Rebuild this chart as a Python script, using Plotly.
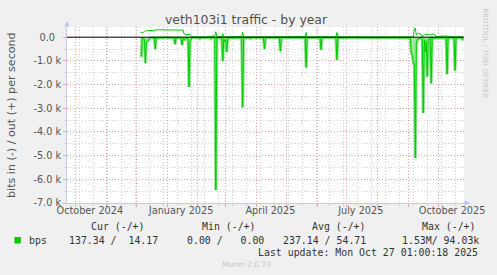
import plotly.graph_objects as go

# ---------------- data ----------------
in_dates = [
    "2024-12-05", "2024-12-06", "2024-12-07", "2024-12-08", "2024-12-09", "2024-12-10",
    "2024-12-11", "2024-12-12", "2024-12-13", "2024-12-14", "2024-12-15", "2024-12-16",
    "2024-12-19", "2024-12-20", "2024-12-21", "2024-12-28", "2025-01-05", "2025-01-08",
    "2025-01-09", "2025-01-10", "2025-01-15", "2025-01-16", "2025-01-17", "2025-01-19",
    "2025-01-20", "2025-01-22", "2025-01-23", "2025-01-24", "2025-01-25", "2025-01-26",
    "2025-02-02", "2025-02-03", "2025-02-04", "2025-02-13", "2025-02-14", "2025-02-15",
    "2025-02-18", "2025-02-19", "2025-02-20", "2025-02-21", "2025-02-25", "2025-02-26",
    "2025-02-27", "2025-02-28", "2025-03-01", "2025-03-02", "2025-03-03", "2025-03-08",
    "2025-03-12", "2025-03-17", "2025-03-18", "2025-03-19", "2025-03-25", "2025-03-26",
    "2025-03-27", "2025-04-08", "2025-04-09", "2025-04-10", "2025-04-24", "2025-04-25",
    "2025-04-26", "2025-05-20", "2025-05-21", "2025-05-22", "2025-06-04", "2025-06-05",
    "2025-06-06", "2025-06-20", "2025-06-21", "2025-06-22", "2025-07-01", "2025-07-15",
    "2025-08-01", "2025-08-20", "2025-09-02", "2025-09-03", "2025-09-04", "2025-09-05",
    "2025-09-06", "2025-09-07", "2025-09-08", "2025-09-09", "2025-09-10", "2025-09-14",
    "2025-09-15", "2025-09-16", "2025-09-17", "2025-09-18", "2025-09-19", "2025-09-20",
    "2025-09-21", "2025-09-23", "2025-09-24", "2025-09-25", "2025-10-01", "2025-10-09",
    "2025-10-10", "2025-10-11", "2025-10-17", "2025-10-18", "2025-10-19", "2025-10-25",
    "2025-10-26",
]
in_bps = [
    790, 790, 30, 50, 90, 1100,
    200, 180, 120, 50, 30, 20,
    30, 500, 30, 20, 25, 25,
    300, 25, 30, 330, 50, 100,
    30, 40, 2100, 180, 80, 20,
    20, 60, 20, 20, 70, 20,
    20, 6450, 30, 25, 20, 1000,
    60, 200, 100, 630, 30, 30,
    20, 20, 2960, 30, 20, 60,
    20, 20, 500, 20, 20, 600,
    20, 20, 1280, 20, 20, 530,
    20, 20, 960, 30, 25, 20,
    25, 20, 30, 60, 680, 750,
    1100, 1100, 5100, 300, 100, 20,
    50, 3200, 100, 620, 150, 1660,
    100, 50, 1950, 30, 20, 30,
    1560, 30, 25, 1410, 30, 25,
    137,
]

out_dates = [
    "2024-12-05", "2024-12-06", "2024-12-07", "2024-12-09", "2024-12-10", "2024-12-18",
    "2024-12-20", "2025-01-17", "2025-01-18", "2025-01-20", "2025-01-22", "2025-01-23",
    "2025-01-24", "2025-01-25", "2025-01-26", "2025-02-10", "2025-02-18", "2025-02-19",
    "2025-02-20", "2025-02-25", "2025-02-26", "2025-02-27", "2025-03-17", "2025-03-18",
    "2025-03-19", "2025-05-20", "2025-05-21", "2025-05-22", "2025-06-20", "2025-06-21",
    "2025-06-22", "2025-09-06", "2025-09-07", "2025-09-08", "2025-09-09", "2025-09-10",
    "2025-09-13", "2025-09-14", "2025-09-16", "2025-09-18", "2025-09-22", "2025-09-24",
    "2025-09-27", "2025-09-29", "2025-10-05", "2025-10-10", "2025-10-15", "2025-10-26",
]
out_bps = [
    210, 200, 180, 230, 270, 280,
    310, 300, 140, 110, 120, 140,
    120, 50, 10, 5, 60, 230,
    20, 20, 150, 10, 30, 210,
    10, 20, 200, 10, 20, 200,
    10, 10, 350, 380, 100, 150,
    150, 80, 50, 120, 100, 130,
    130, 20, 50, 40, 10, 14,
]

x_range = ["2024-09-22 01:00:18", "2025-10-27 01:00:18"]
month_label_dates = ["2024-10-15", "2025-01-15", "2025-04-15", "2025-07-15", "2025-10-15"]
month_labels = ["October 2024", "January 2025", "April 2025", "July 2025", "October 2025"]
y_tick_vals = [0, -1000, -2000, -3000, -4000, -5000, -6000, -7000]
y_tick_text = ["0.0\u00a0\u00a0", "-1.0 k", "-2.0 k", "-3.0 k", "-4.0 k", "-5.0 k", "-6.0 k", "-7.0 k"]
y_range = [-7000, 430]

title_text = "veth103i1 traffic - by year"
y_title = "bits in (-) / out (+) per second"
series_name = "bps"
legend_headers = ["Cur (-/+)", "Min (-/+)", "Avg (-/+)", "Max (-/+)"]
legend_values = ["137.34 /  14.17", "0.00 /   0.00", "237.14 / 54.71", "1.53M/ 94.03k"]
last_update = "Last update: Mon Oct 27 01:00:18 2025"
footer = "Munin 2.0.73"
side_text = "RRDTOOL / TOBI OETIKER"

# ---------------- layout geometry ----------------
W, H = 497, 275
PL, PR, PT, PB = 67, 467, 27, 203


def px(x):
    return (x - PL) / (PR - PL)


def py(y):
    return (PB - y) / (PB - PT)


GREEN = "#00CC00"
FILL = "#9ee89e"
HALO = "#8ae28a"
RED_GRID = "#e9a3a3"
GRAY_GRID = "#d2d2d2"
AXIS = "#c6cae8"
ARROW = "#b9c1f2"
TXT = "#555555"
MONO = "DejaVu Sans Mono"
SANS = "DejaVu Sans"

in_neg = [-v for v in in_bps]

fig = go.Figure()
fig.add_trace(go.Scatter(
    x=in_dates, y=in_neg, mode="lines",
    line=dict(color=HALO, width=3), fill="tozeroy", fillcolor=FILL,
    hoverinfo="skip", xaxis="x", yaxis="y",
))
fig.add_trace(go.Scatter(
    x=in_dates, y=in_neg, mode="lines", fill="none",
    line=dict(color=GREEN, width=1), hoverinfo="skip", xaxis="x", yaxis="y",
))
fig.add_trace(go.Scatter(
    x=out_dates, y=out_bps, mode="lines", fill="none",
    line=dict(color=GREEN, width=1), hoverinfo="skip", xaxis="x", yaxis="y",
))
# invisible trace so the label axis is active
fig.add_trace(go.Scatter(x=x_range, y=[0, 0], mode="lines", line=dict(width=0), fill="none",
                         hoverinfo="skip", xaxis="x2", yaxis="y", showlegend=False))

fig.update_layout(
    width=W, height=H,
    margin=dict(l=PL, r=W - PR, t=PT, b=H - PB, pad=0),
    paper_bgcolor="#F0F0F0", plot_bgcolor="#FFFFFF",
    showlegend=False,
    font=dict(family=SANS, size=10, color=TXT),
    xaxis=dict(
        type="date", range=x_range, showticklabels=False,
        tick0="2024-10-01", dtick="M1",
        showgrid=True, gridcolor=RED_GRID, griddash="1px,2px", gridwidth=1,
        ticks="outside", ticklen=3, tickcolor=RED_GRID,
        minor=dict(tick0="2024-10-05", dtick=14 * 86400000, showgrid=True,
                   gridcolor=GRAY_GRID, griddash="1px,2px", ticks="outside",
                   ticklen=2, tickcolor=GRAY_GRID),
        showline=True, linecolor=AXIS, linewidth=1, zeroline=False,
    ),
    xaxis2=dict(
        type="date", range=x_range, overlaying="x", side="bottom",
        tickmode="array", tickvals=month_label_dates, ticktext=month_labels,
        ticks="", showgrid=False, showline=False, zeroline=False,
        tickfont=dict(family=SANS, size=9.7, color=TXT),
    ),
    yaxis=dict(
        range=y_range, tickmode="array", tickvals=y_tick_vals, ticktext=y_tick_text,
        showgrid=True, gridcolor=RED_GRID, griddash="1px,2px", gridwidth=1,
        ticks="outside", ticklen=3, tickcolor=RED_GRID,
        minor=dict(dtick=500, tick0=0, showgrid=True, gridcolor=GRAY_GRID,
                   griddash="1px,2px", ticks="outside", ticklen=2, tickcolor=GRAY_GRID),
        showline=True, linecolor=AXIS, linewidth=1, zeroline=False,
        tickfont=dict(family=SANS, size=9.7, color=TXT),
    ),
)

shapes = [
    # zero line
    dict(type="line", xref="paper", yref="y", x0=0, x1=1, y0=0, y1=0,
         line=dict(color="#000000", width=1), layer="above"),
    # axis arrows
    dict(type="path", xref="paper", yref="paper",
         path=f"M {px(64.5)} {py(26.5)} L {px(67)} {py(21)} L {px(69.5)} {py(26.5)} Z",
         fillcolor=ARROW, line=dict(width=0)),
    dict(type="path", xref="paper", yref="paper",
         path=f"M {px(467.5)} {py(200.5)} L {px(473.5)} {py(203)} L {px(467.5)} {py(205.5)} Z",
         fillcolor=ARROW, line=dict(width=0)),
    # legend colour box
    dict(type="rect", xref="paper", yref="paper",
         x0=px(14), x1=px(20.5), y0=py(243.5), y1=py(237),
         fillcolor=GREEN, line=dict(width=0)),
]
fig.update_layout(shapes=shapes)


def nb(s):
    return s.replace(" ", "\u00a0")


ann = []
ann.append(dict(text=title_text, x=px(248), y=py(20), xanchor="center", yanchor="middle",
                font=dict(family=SANS, size=12.4, color="#505050")))
ann.append(dict(text=y_title, x=px(10.5), y=py(115), xanchor="center", yanchor="middle",
                textangle=-90, font=dict(family=SANS, size=11.1, color=TXT)))
ann.append(dict(text=side_text, x=px(488), y=py(53), xanchor="center", yanchor="middle",
                textangle=90, font=dict(family=SANS, size=7, color="#c8c8c8")))
header_x = [89, 201, 312, 423]
value_x = [67, 186, 283, 403]
for hx, h in zip(header_x, legend_headers):
    ann.append(dict(text=nb(h), x=px(hx), y=py(227), xanchor="left", yanchor="middle",
                    font=dict(family=MONO, size=9.9, color="#333333")))
ann.append(dict(text=nb(series_name), x=px(27), y=py(240), xanchor="left", yanchor="middle",
                font=dict(family=MONO, size=9.9, color="#333333")))
for vx, v in zip(value_x, legend_values):
    ann.append(dict(text=nb(v), x=px(vx), y=py(240), xanchor="left", yanchor="middle",
                    font=dict(family=MONO, size=9.9, color="#333333")))
ann.append(dict(text=nb(last_update), x=px(483.5), y=py(252.5), xanchor="right", yanchor="middle",
                font=dict(family=MONO, size=9.9, color="#333333")))
ann.append(dict(text=footer, x=px(248), y=py(264.5), xanchor="center", yanchor="middle",
                font=dict(family=SANS, size=7.5, color="#c4c4c4")))
for a in ann:
    a.update(xref="paper", yref="paper", showarrow=False)
fig.update_layout(annotations=ann)

fig.write_html("out.html")
